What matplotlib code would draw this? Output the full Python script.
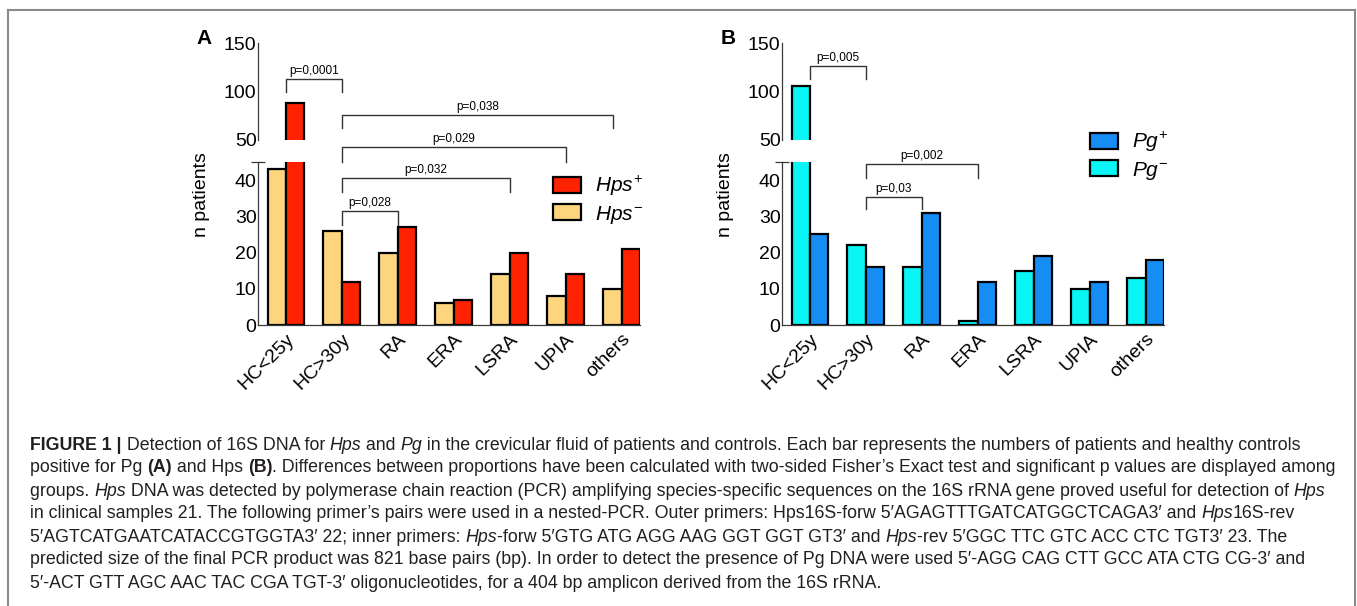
import numpy as np
import matplotlib
matplotlib.use('Agg')
import matplotlib.pyplot as plt
from matplotlib.patches import Patch
from matplotlib.lines import Line2D
import matplotlib.transforms as mtransforms

plt.rcParams['font.family'] = ['Liberation Sans', 'DejaVu Sans']
plt.rcParams['mathtext.fontset'] = 'custom'
plt.rcParams['mathtext.rm'] = 'Liberation Sans'
plt.rcParams['mathtext.it'] = 'Liberation Sans:italic'

# data
groups = ['HC<25y', 'HC>30y', 'RA', 'ERA', 'LSRA', 'UPIA', 'others']
hps_neg = [43, 26, 20, 6, 14, 8, 10]
hps_pos = [88, 12, 27, 7, 20, 14, 21]
pg_neg = [106, 22, 16, 1, 15, 10, 13]
pg_pos = [25, 16, 31, 12, 19, 12, 18]

# (from group, to group, label, top, leg end, axis part)
brackets_a = [(0, 1, 'p=0,0001', 113, 100, 'up'),
              (1, 5.85, 'p=0,038', 76, 62, 'up'),
              (1, 5, 'p=0,029', 49.2, 45, 'low'),
              (1, 4, 'p=0,032', 40.6, 36.7, 'low'),
              (1, 2, 'p=0,028', 31.5, 27.6, 'low')]
brackets_b = [(0, 1, 'p=0,005', 126, 113, 'up'),
              (1, 3, 'p=0,002', 44.5, 40.6, 'low'),
              (1, 2, 'p=0,03', 35.4, 32, 'low')]

caption = [
    "#FIGURE 1 |# Detection of 16S DNA for _Hps_ and _Pg_ in the crevicular fluid of patients and controls. Each bar represents the numbers of patients and healthy controls",
    "positive for Pg #(A)# and Hps #(B)#. Differences between proportions have been calculated with two-sided Fisher\u2019s Exact test and significant p values are displayed among",
    "groups. _Hps_ DNA was detected by polymerase chain reaction (PCR) amplifying species-specific sequences on the 16S rRNA gene proved useful for detection of _Hps_",
    "in clinical samples 21. The following primer\u2019s pairs were used in a nested-PCR. Outer primers: Hps16S-forw 5\u2032AGAGTTTGATCATGGCTCAGA3\u2032 and _Hps_16S-rev",
    "5\u2032AGTCATGAATCATACCGTGGTA3\u2032 22; inner primers: _Hps_-forw 5\u2032GTG ATG AGG AAG GGT GGT GT3\u2032 and _Hps_-rev 5\u2032GGC TTC GTC ACC CTC TGT3\u2032 23. The",
    "predicted size of the final PCR product was 821 base pairs (bp). In order to detect the presence of Pg DNA were used 5\u2032-AGG CAG CTT GCC ATA CTG CG-3\u2032 and",
    "5\u2032-ACT GTT AGC AAC TAC CGA TGT-3\u2032 oligonucleotides, for a 404 bp amplicon derived from the 16S rRNA.",
]

W, H = 1357, 606
fig = plt.figure(figsize=(W / 100, H / 100), dpi=100)
fig.patch.set_facecolor('white')

axcol = '#3a3a3a'
x = np.arange(len(groups))
w = 0.33


def panel(left, first, second, c1, c2, brackets, letter, labels, leg_xy):
    low = fig.add_axes([left, 1 - 325 / H, 382 / W, 163 / H])
    up = fig.add_axes([left, 1 - 140 / H, 382 / W, 97 / H], sharex=low)
    for ax in (low, up):
        ax.set_facecolor('none')
        ax.bar(x - w / 2, first, w, color=c1, edgecolor='black', linewidth=1.6)
        ax.bar(x + w / 2, second, w, color=c2, edgecolor='black', linewidth=1.6)
        for s in ('top', 'right'):
            ax.spines[s].set_visible(False)
        ax.spines['left'].set_color(axcol)
        ax.spines['left'].set_linewidth(0.9)
        ax.tick_params(axis='y', length=0, pad=1, labelsize=14)
    low.set_xlim(-0.5, 6.33)
    low.set_ylim(0, 45)
    up.set_ylim(50, 150)
    up.spines['bottom'].set_visible(False)
    up.tick_params(axis='x', bottom=False, labelbottom=False)
    low.spines['bottom'].set_color(axcol)
    low.spines['bottom'].set_linewidth(0.9)
    low.set_yticks([0, 10, 20, 30, 40])
    up.set_yticks([50, 100, 150])
    # break caps
    low.set_yticks([45], minor=True)
    low.tick_params(axis='y', which='minor', direction='inout', length=10,
                    width=0.9, color=axcol)
    up.set_yticks([50], minor=True)
    up.tick_params(axis='y', which='minor', direction='in', length=6,
                   width=0.9, color=axcol)
    low.set_xticks(x)
    low.set_xticklabels(groups, rotation=45, ha='right', va='top',
                        rotation_mode='anchor', fontsize=14)
    low.tick_params(axis='x', length=0, pad=4)

    for i, j, lab, top, bot, part in brackets:
        ax = up if part == 'up' else low
        ax.plot([i, i, j, j], [bot, top, top, bot], color='#333333', lw=1,
                clip_on=False)
        ax.annotate(lab, xy=((i + j) / 2, top), xytext=(0, 1.5),
                    textcoords='offset points', ha='center', va='bottom',
                    fontsize=8.5, annotation_clip=False)

    fig.text((left * W - 56) / W, 1 - 195 / H, 'n patients', rotation=90,
             ha='center', va='center', fontsize=14)
    fig.text((left * W - 54) / W, 1 - 38 / H, letter, fontsize=15,
             weight='bold', ha='center', va='center')

    handles = [Patch(facecolor=c2, edgecolor='black', lw=1.6, label=labels[0]),
               Patch(facecolor=c1, edgecolor='black', lw=1.6, label=labels[1])]
    leg = low.legend(handles=handles, loc='center left',
                     bbox_to_anchor=(leg_xy[0] / W, 1 - leg_xy[1] / H),
                     bbox_transform=fig.transFigure, frameon=False, fontsize=15,
                     handlelength=1.35, handleheight=0.8, handletextpad=0.65,
                     labelspacing=0.25, borderpad=0, borderaxespad=0)
    leg.set_zorder(10)


panel(258 / W, hps_neg, hps_pos, '#FDD57F', '#FF2200', brackets_a, 'A',
      [r'$\mathit{Hps}^{+}$', r'$\mathit{Hps}^{-}$'], (553, 200))
panel(782 / W, pg_neg, pg_pos, '#0AF5F5', '#168CF5', brackets_b, 'B',
      [r'$\mathit{Pg}^{+}$', r'$\mathit{Pg}^{-}$'], (1090, 156))

# frame around figure + caption
pix = mtransforms.IdentityTransform()
bc = '#8a8a8a'
fig.add_artist(Line2D([8, 1355], [H - 10, H - 10], transform=pix, color=bc, lw=1.5))
fig.add_artist(Line2D([8, 8], [H - 10, 0], transform=pix, color=bc, lw=1.5))
fig.add_artist(Line2D([1355, 1355], [H - 10, 0], transform=pix, color=bc, lw=1.5))

renderer = fig.canvas.get_renderer()
cap_font = ['Liberation Sans', 'DejaVu Sans']


def runs_of(line):
    out, cur, it, bd = [], '', False, False
    for ch in line:
        if ch in '_#':
            if cur:
                out.append((cur, it, bd))
            cur = ''
            if ch == '_':
                it = not it
            else:
                bd = not bd
        else:
            cur += ch
    if cur:
        out.append((cur, it, bd))
    return out


def width(s, size, it, bd):
    kw = dict(fontsize=size, family=cap_font,
              style='italic' if it else 'normal',
              weight='bold' if bd else 'normal')
    t1 = fig.text(0, 0, 'I' + s + 'I', **kw)
    t2 = fig.text(0, 0, 'II', **kw)
    wd = t1.get_window_extent(renderer).width - t2.get_window_extent(renderer).width
    t1.remove()
    t2.remove()
    return wd


# size so that the longest line spans the same width as in the print
ref = sum(width(s, 10, i, b) for s, i, b in runs_of(caption[1]))
cap_size = 10 * 1308 / ref

for k, line in enumerate(caption):
    xp = 30
    yp = H - (445 + 23 * k)
    for s, it, bd in runs_of(line):
        fig.text(xp, yp, s, transform=pix, fontsize=cap_size, family=cap_font,
                 style='italic' if it else 'normal',
                 weight='bold' if bd else 'normal', va='center', ha='left',
                 color='#231f20')
        xp += width(s, cap_size, it, bd)

fig.savefig('out.png', dpi=100)
